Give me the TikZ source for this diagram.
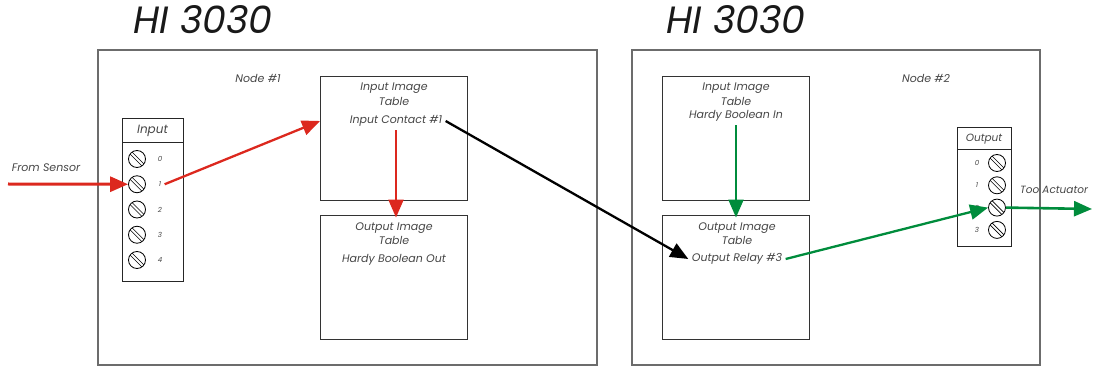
\documentclass[tikz,border=0pt]{standalone}
\usepackage{fontspec}
\usepackage{tikz}
\usetikzlibrary{arrows.meta,positioning}
\newfontfamily\lblfont{Poppins}
\definecolor{wirered}{RGB}{220,40,30}
\definecolor{wiregreen}{RGB}{0,140,60}
\definecolor{txtgray}{RGB}{70,70,70}

\begin{document}
\begin{tikzpicture}[
  x=1pt, y=-1pt,
  frame/.style={draw=gray!85!black, line width=1.3pt},
  tablebox/.style={draw=black!80, line width=0.9pt, minimum width=147pt, minimum height=124pt},
  block/.style={draw=black!85, line width=1pt, inner sep=0pt},
  title/.style={font=\lblfont\itshape\fontsize{38}{42}\selectfont, text=black!90},
  lbl/.style={font=\lblfont\itshape\fontsize{11}{14.5}\selectfont, text=txtgray, align=center},
  num/.style={font=\lblfont\itshape\fontsize{7}{8}\selectfont, text=txtgray},
  screw/.style={circle, draw=black, line width=0.8pt, minimum size=17pt, inner sep=0pt,
    path picture={
      \draw[line width=0.6pt] ([shift={(-8pt,10pt)}]path picture bounding box.center) -- ++(18pt,-18pt);
      \draw[line width=0.6pt] ([shift={(-10pt,8pt)}]path picture bounding box.center) -- ++(18pt,-18pt);
    }},
  wire/.style={-{Triangle[length=18pt,width=15pt]}, line width=2.3pt}
]
\useasboundingbox (0,0) rectangle (1093,366);

% the two controllers
\node[title] (title1) at (203,20) {HI 3030};
\node[title] (title2) at (736,20) {HI 3030};
\node[frame, minimum width=499pt, minimum height=315pt] (frame1) at (347.5,207.5) {};
\node[frame, minimum width=408pt, minimum height=315pt] (frame2) at (836,207.5) {};
\node[lbl] (node1) at (258,78) {Node \#1};
\node[lbl] (node2) at (926,78) {Node \#2};

% image tables
\node[tablebox] (iit) at (394,138) {};
\node[tablebox] (oit) at (394,277) {};
\node[tablebox] (riit) at (736,138) {};
\node[tablebox] (roit) at (736,277) {};
\node[lbl] (iithead) at (394,94) {Input Image\\Table};
\node[lbl] (incontact) at (396,121) {Input Contact \#1};
\node[lbl] (oithead) at (394,233.5) {Output Image\\Table};
\node[lbl] (boolout) at (394,260) {Hardy Boolean Out};
\node[lbl] (riithead) at (736,94) {Input Image\\Table};
\node[lbl] (boolin) at (736,116) {Hardy Boolean In};
\node[lbl] (roithead) at (737,233.5) {Output Image\\Table};
\node[lbl] (relay) at (737,259) {Output Relay \#3};

% input terminal block
\node[block, minimum width=61pt, minimum height=163pt] (inblk) at (152.5,200.5) {};
\node[block, lbl, font=\lblfont\itshape\fontsize{12}{14}\selectfont, minimum width=61pt, minimum height=24pt, anchor=north] (inhead) at (inblk.north) {Input};
\foreach \i in {0,...,4} {
  \node[screw] (in\i) at (137,{159+25.25*\i}) {};
  \node[num] (inn\i) at (160,{159+25.25*\i}) {\i};
}

% output terminal block
\node[block, minimum width=54pt, minimum height=119pt] (outblk) at (984,187.5) {};
\node[block, lbl, font=\lblfont\itshape\fontsize{10.5}{12}\selectfont, minimum width=54pt, minimum height=22pt, anchor=north] (outhead) at (outblk.north) {Output};
\foreach \i in {0,...,3} {
  \node[screw] (out\i) at (997,{163+22.3*\i}) {};
  \node[num] (outn\i) at (977,{163+22.3*\i}) {\i};
}

% wiring
\coordinate (sensor) at (8,184);
\coordinate (actuator) at (1092,209);
\node[lbl] (sensorlbl) at (46,168) {From Sensor};
\node[lbl, font=\lblfont\itshape\fontsize{10.5}{12}\selectfont, anchor=west, inner sep=1pt] (actlbl) at (1019,190) {Too Actuator};
\draw[wire, wirered, line width=3pt] (sensor) -- (in1.west);
\draw[wire, wirered] (inn1.east) -- (iit.west |- incontact);
\draw[wire, wirered, shorten >=-3pt] (incontact.south) -- (incontact.south |- oit.north);
\draw[wire, black] (incontact.east) -- (relay.west);
\draw[wire, wiregreen, shorten >=-3pt] (boolin.south) -- (boolin.south |- roit.north);
\draw[wire, wiregreen] (relay.east) -- (out2.west);
\draw[wire, wiregreen, line width=2.6pt] (out2.east) -- (actuator);
\end{tikzpicture}
\end{document}
